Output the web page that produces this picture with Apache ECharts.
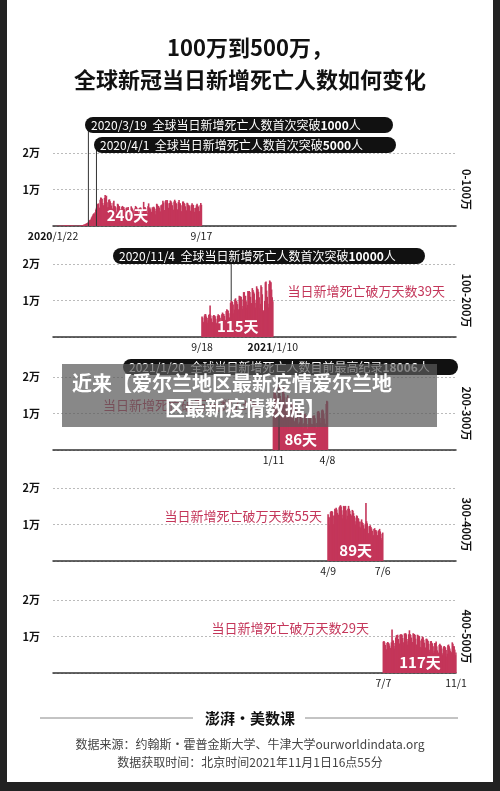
<!DOCTYPE html>
<html><head><meta charset="utf-8">
<script src="https://cdn.jsdelivr.net/npm/echarts@6/dist/echarts.min.js"></script>
<style>html,body{margin:0;padding:0;background:#222;}#c{width:500px;height:791px;}</style>
</head><body><div id="c"></div>
<script>
// ---- data (daily new deaths, estimated) ----
const startDate = '2020-01-22';
const endDate = '2021-11-01';
const p1Start = '2020-01-22';
const p1Values = [17,8,16,15,24,26,26,38,43,46,
45,58,64,66,73,73,86,89,97,108,97,254,121,143,142,106,98,139,115,118,109,97,150,71,64,37,58,67,72,
70,80,60,100,100,110,100,230,200,300,300,400,400,500,600,700,800,900,1000,1300,1600,1700,1800,2300,2600,2900,3300,3500,3200,3800,4500,
5000,5800,6000,6200,5000,5000,7200,7800,7700,7400,6300,5700,5500,7700,8500,8100,8300,6500,5100,5200,7200,7300,6800,6300,5600,3600,4800,6400,6900,5500,
5400,5100,3700,4000,6100,5900,5500,5400,4600,3500,3500,5300,5500,5000,5200,4600,3400,3500,5000,5100,4700,5200,4200,2800,2900,3500,5400,5000,4700,4300,3000,
3400,4800,5500,5200,5000,4200,2900,3600,4900,5000,5100,4800,4200,3600,3700,6600,5200,5200,4900,4400,3500,3600,5400,6200,5000,5100,4600,3400,3900,5100,
5100,5300,5100,4700,3200,4100,6100,5900,5500,5500,5100,3900,4000,5700,5700,6000,6900,6400,4400,4300,6800,7100,6300,7100,6200,5000,4900,6300,7000,6800,6400,
5700,4500,4400,6700,7200,6800,6300,6100,4400,4600,6600,7100,6300,6200,5700,4000,4100,6700,6700,6300,6100,5400,4200,4300,6400,6200,5800,5700,5400,4200,4100,
5800,6200,5700,5800,4900,3900,3800,5000,5700,6100,5600,5300,3700,4100,5700,6300,5800];
const p2Start = '2020-09-18';
const p2Values = [5600,5300,3900,4200,5900,6300,6200,5600,5200,3900,4600,6000,6300,
8600,5900,5100,3900,4100,5800,6000,5900,5700,5000,3600,3900,5800,6200,6000,5900,5300,3900,4300,6200,6700,6400,6300,5800,4400,4700,7100,7600,7400,7200,6500,
5200,5400,9400,10000,9800,9600,8900,6500,7500,10300,10600,9900,9700,9000,6900,7600,11300,11200,11000,11000,10300,7700,8500,12300,12300,10800,11300,9800,8000,8800,
12600,12400,12600,12300,11000,8200,9300,13400,12900,12400,11900,10200,8100,9300,13900,13300,13100,12400,10900,7900,9100,14200,13700,11700,7400,7100,7000,9900,15000,15200,12700,
11000,9100,8100,14500,15500,15200,15000,13000,10900,9800];
const p3Start = '2021-01-11';
const p3Values = [9400,15700,16800,15700,14900,13900,9600,10000,17200,18006,16500,14800,13800,10400,9300,16600,17200,15500,14600,12800,9000,
10000,14400,15000,13400,12200,9600,7800,9100,13000,12700,12300,10100,8000,7800,6600,11400,10800,10000,9300,7200,6100,7600,10000,10500,9900,8900,7000,6000,
7300,9800,9900,9500,9100,7100,5800,6600,9400,9300,8900,8700,7200,5700,7100,9400,9400,9500,8700,7000,6000,7400,10400,10700,10600,10200,8800,7500,7400,10900,11100,
10800,10000,8600,6900,7200,12600,13500,13300];
const p4Start = '2021-04-09';
const p4Values = [12800,12100,9800,11900,13400,13700,13700,13500,12400,10100,12500,14300,14100,14600,14100,13200,11500,12700,14700,15000,15300,14900,
13900,11700,12700,15100,14900,15000,15100,13900,11400,12400,14300,15100,14300,13800,12900,11400,12500,14000,13800,13100,12300,11900,10000,10900,12500,12300,11800,11600,10800,9400,9100,
10800,11400,10600,10400,9800,8500,8900,10200,15900,10900,10300,9500,7600,7600,9600,9800,9300,8900,8300,6700,7100,8800,9000,8500,8500,8100,6600,7100,8300,8400,
8800,8100,7500,5800,6300,7800];
const p5Start = '2021-07-07';
const p5Values = [8600,8800,8400,7700,6000,6500,8200,8500,8300,8100,7500,6000,6900,8400,11900,8900,8900,8200,6700,7400,9700,10300,10400,10500,9300,
7600,8100,10500,10600,10600,10500,9600,7500,8400,10800,10800,10900,10600,9300,7800,8700,10600,11700,10700,10400,9700,7800,8500,10900,10700,10700,10400,9400,7700,7800,10500,
10300,10200,10100,8900,7100,6900,9400,10000,9800,9100,8300,6300,7000,9400,9400,9100,8800,8000,5800,6400,8700,8800,8300,8100,7300,5500,6100,8200,8200,8600,
7300,6200,5000,5600,7700,8000,7700,7500,6700,4900,5400,7200,7400,7200,7000,6300,4500,5300,7600,7800,7300,6700,6100,4700,5700,8400,8000,7400,7300,6400,4900,
5600];
const yTicks = [0, 10000, 20000];
const yTickLabels = ['', '1万', '2万'];
const rangeLabels = ['0-100万', '100-200万', '200-300万', '300-400万', '400-500万'];
const dayLabels = ['240天', '115天', '86天', '89天', '117天'];
const countLabels = ['', '当日新增死亡破万天数39天', '当日新增死亡破万天数73天', '当日新增死亡破万天数55天', '当日新增死亡破万天数29天'];
const milestones = [
  {panel:0, date:'2020-03-19', d:'2020/3/19', t:'全球当日新增死亡人数首次突破', n:'1000', u:'人'},
  {panel:0, date:'2020-04-01', d:'2020/4/1', t:'全球当日新增死亡人数首次突破', n:'5000', u:'人'},
  {panel:1, date:'2020-11-04', d:'2020/11/4', t:'全球当日新增死亡人数首次突破', n:'10000', u:'人'},
  {panel:2, date:'2021-01-20', d:'2021/1/20', t:'全球当日新增死亡人数目前最高纪录', n:'18006', u:'人'}
];
const xLabels = [
  [['2020','/1/22','2020-01-22'],['','9/17','2020-09-17']],
  [['','9/18','2020-09-18'],['2021','/1/10','2021-01-10']],
  [['','1/11','2021-01-11'],['','4/8','2021-04-08']],
  [['','4/9','2021-04-09'],['','7/6','2021-07-06']],
  [['','7/7','2021-07-07'],['','11/1','2021-11-01']]
];
// ---- build ----
const dayIdx = s => Math.round((Date.parse(s) - Date.parse(startDate)) / 86400000);
const total = dayIdx(endDate);
const panels = [[p1Start,p1Values],[p2Start,p2Values],[p3Start,p3Values],[p4Start,p4Values],[p5Start,p5Values]];
const tops = [153, 264, 377, 488, 600];
const H = 73;
const RED = '#c4365a';
const FONT = '"Noto Sans CJK SC","Noto Sans",sans-serif';
const chart = echarts.init(document.getElementById('c'));
const grids=[], xAxes=[], yAxes=[], series=[];
panels.forEach(([s, vals], i) => {
  grids.push({left:53, right:44, top:tops[i], height:H});
  xAxes.push({type:'value', gridIndex:i, min:0, max:total, axisLabel:{show:false}, axisTick:{show:false}, splitLine:{show:false},
    axisLine:{show:true, lineStyle:{color:'#333', width:1.5}}});
  yAxes.push({type:'value', gridIndex:i, min:0, max:20000, interval:10000,
    axisLine:{show:false}, axisTick:{show:false},
    axisLabel:{margin:13, color:'#111', fontFamily:FONT, fontWeight:'bold', fontSize:11,
      formatter:v => yTickLabels[yTicks.indexOf(v)]},
    splitLine:{show:true, lineStyle:{color:'#aaa', type:[2,2], width:0.8}}});
  const off = dayIdx(s);
  series.push({type:'bar', xAxisIndex:i, yAxisIndex:i, barWidth:1.6, itemStyle:{color:RED}, silent:true,
    data: vals.map((v, k) => [off + k, v])});
});
chart.setOption({animation:false, backgroundColor:'#222', grid:grids, xAxis:xAxes, yAxis:yAxes, series:series});

const g = [];
g.push({type:'rect', shape:{x:7, y:0, width:486, height:782}, style:{fill:'#fff'}, z:-10});
g.push({type:'text', x:250, y:48, style:{text:'100万到500万，', fontSize:22, fontWeight:'bold', fontFamily:FONT, fill:'#111', align:'center', verticalAlign:'middle'}});
g.push({type:'text', x:250, y:80, style:{text:'全球新冠当日新增死亡人数如何变化', fontSize:22, fontWeight:'bold', fontFamily:FONT, fill:'#111', align:'center', verticalAlign:'middle'}});
panels.forEach(([s, vals], i) => {
  const base = tops[i] + H;
  g.push({type:'text', x:466, y:tops[i] + H/2, rotation:-Math.PI/2, style:{text:rangeLabels[i], fontSize:11, fontWeight:'bold', fontFamily:FONT, fill:'#111', align:'center', verticalAlign:'middle'}});
  const mid = chart.convertToPixel({xAxisIndex:i}, dayIdx(s) + vals.length/2);
  g.push({type:'text', x:mid, y:base - 11, z:10, style:{text:dayLabels[i], fontSize:15, fontWeight:'bold', fontFamily:FONT, fill:'#fff', align:'center', verticalAlign:'middle'}});
  xLabels[i].forEach(([b, r, d]) => {
    const px = chart.convertToPixel({xAxisIndex:i}, dayIdx(d));
    g.push({type:'text', x:px, y:base + 10, style:{text:(b ? '{b|'+b+'}' : '') + r, fontSize:10.5, fontFamily:FONT, fill:'#222', align:'center', verticalAlign:'middle',
      rich:{b:{fontWeight:'bold', fontSize:10.5, fontFamily:FONT, fill:'#111'}}}});
  });
  if (countLabels[i]) {
    const lx = [0, 445, 0, 322, 369][i];
    const yy = [0, 291, 405, 516, 628][i];
    if (i === 2) g.push({type:'text', x:103, y:yy, style:{text:countLabels[i], fontSize:13, fontFamily:FONT, fill:RED, align:'left', verticalAlign:'middle'}});
    else g.push({type:'text', x:lx, y:yy, style:{text:countLabels[i], fontSize:13, fontFamily:FONT, fill:RED, align:'right', verticalAlign:'middle'}});
  }
});
const boxes = [[85,117,308],[94,137,302],[113,248,312],[123,359,335]];
milestones.forEach((m, j) => {
  const [bx, by, bw] = boxes[j];
  const px = chart.convertToPixel({xAxisIndex:m.panel}, dayIdx(m.date));
  const base = tops[m.panel] + H;
  const yEnd = m.panel === 1 ? chart.convertToPixel({yAxisIndex:1}, 10000) : base;
  g.push({type:'line', shape:{x1:px, y1:by + 8, x2:px, y2:yEnd}, style:{stroke:'#333', lineWidth:1}, z:5});
  g.push({type:'rect', shape:{x:bx, y:by, width:bw, height:16, r:8}, style:{fill:'#111'}, z:6});
  g.push({type:'text', x:bx + 6, y:by + 8.5, z:7, style:{text:m.d + '  ' + m.t + '{n|' + m.n + '}' + m.u, fontSize:12, fontFamily:FONT, fill:'#fff', verticalAlign:'middle',
    rich:{n:{fontWeight:'bold', fontSize:12, fontFamily:FONT, fill:'#fff'}}}});
});
// overlay banner
g.push({type:'rect', shape:{x:62, y:364, width:375, height:63}, style:{fill:'rgba(90,90,90,0.72)'}, z:20});
g.push({type:'text', x:72, y:383, z:21, style:{text:'近来【爱尔兰地区最新疫情爱尔兰地', fontSize:20, fontWeight:'bold', fontFamily:FONT, fill:'#fff', verticalAlign:'middle'}});
g.push({type:'text', x:245, y:408, z:21, style:{text:'区最新疫情数据】', fontSize:20, fontWeight:'bold', fontFamily:FONT, fill:'#fff', align:'center', verticalAlign:'middle'}});
// footer
g.push({type:'line', shape:{x1:40, y1:718, x2:193, y2:718}, style:{stroke:'#888', lineWidth:1}});
g.push({type:'line', shape:{x1:305, y1:718, x2:458, y2:718}, style:{stroke:'#888', lineWidth:1}});
g.push({type:'text', x:250, y:718, style:{text:'澎湃·美数课', fontSize:15, fontWeight:'bold', fontFamily:FONT, fill:'#111', align:'center', verticalAlign:'middle'}});
g.push({type:'text', x:250, y:744, style:{text:'数据来源：约翰斯·霍普金斯大学、牛津大学ourworldindata.org', fontSize:12, fontFamily:FONT, fill:'#444', align:'center', verticalAlign:'middle'}});
g.push({type:'text', x:250, y:762, style:{text:'数据获取时间：北京时间2021年11月1日16点55分', fontSize:12, fontFamily:FONT, fill:'#444', align:'center', verticalAlign:'middle'}});
chart.setOption({graphic:g});
</script></body></html>
